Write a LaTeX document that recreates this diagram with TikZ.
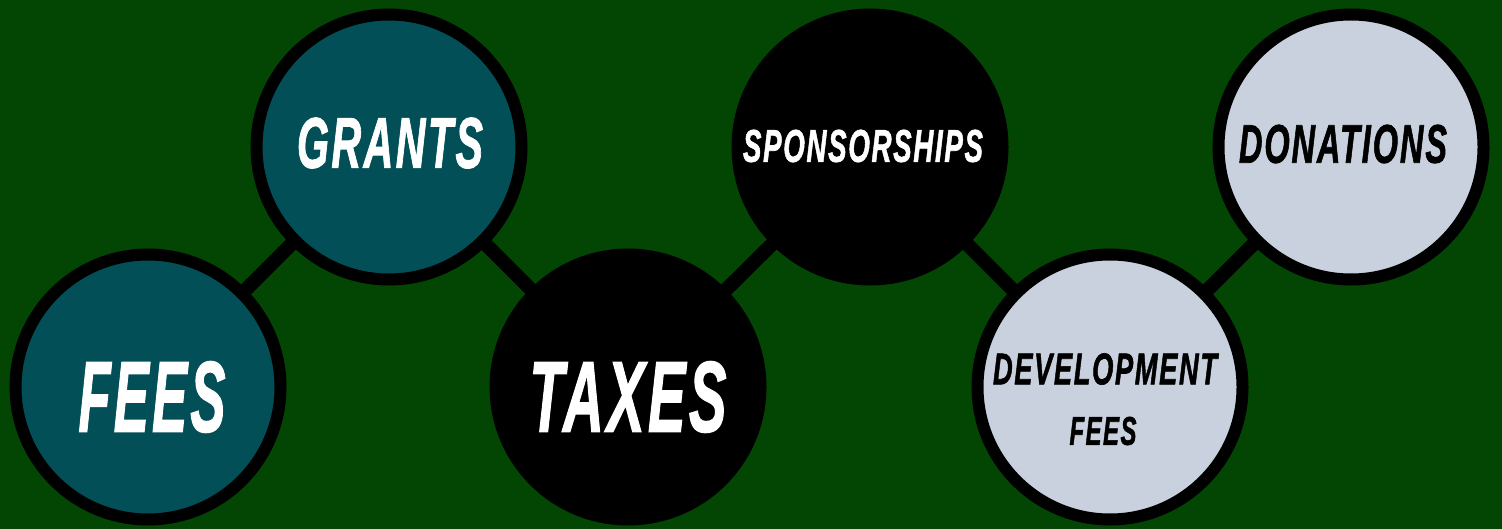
\documentclass[tikz,border=0pt]{standalone}
\usepackage{fontspec}
\usepackage{graphicx}
\setmainfont{Liberation Sans}
\newfontfamily\heavyfont{Liberation Sans}[FakeBold=1.6, LetterSpace=6]
\definecolor{bggreen}{RGB}{3,70,3}
\definecolor{tealfill}{RGB}{2,79,88}
\definecolor{lightfill}{RGB}{202,209,222}
\newcommand{\fitlbl}[3]{\resizebox{#1pt}{#2pt}{\heavyfont\bfseries\itshape #3}}
\tikzset{
  bubble/.style={circle, draw=black, line width=12pt, minimum size=265pt, inner sep=0pt},
  linker/.style={draw=black, line width=14pt},
  lbl/.style={inner sep=0pt, anchor=center}
}
\begin{document}
\begin{tikzpicture}[x=1pt,y=-1pt]
\fill[bggreen] (0,0) rectangle (1502,529);
\useasboundingbox (0,0) rectangle (1502,529);
% centres
\coordinate (cfees) at (148,387);
\coordinate (cgrants) at (389,147);
\coordinate (ctaxes) at (628,387);
\coordinate (cspons) at (870,147);
\coordinate (cdev) at (1110,387);
\coordinate (cdon) at (1351,147);
% connectors
\draw[linker] (cfees) -- (cgrants) -- (ctaxes) -- (cspons) -- (cdev) -- (cdon);
% bubbles
\node[bubble, fill=tealfill] (fees) at (cfees) {};
\node[bubble, fill=tealfill] (grants) at (cgrants) {};
\node[bubble, fill=black] (taxes) at (ctaxes) {};
\node[bubble, fill=black] (spons) at (cspons) {};
\node[bubble, fill=lightfill] (dev) at (cdev) {};
\node[bubble, fill=lightfill] (don) at (cdon) {};
% labels
\node[lbl, text=white] (tfees) at (152,397) {\fitlbl{147}{70}{FEES}};
\node[lbl, text=white] (tgrants) at (390,143) {\fitlbl{186}{50}{GRANTS}};
\node[lbl, text=white] (ttaxes) at (628,397) {\fitlbl{197}{70}{TAXES}};
\node[lbl, text=white] (tspons) at (863,146) {\fitlbl{240}{32}{SPONSORSHIPS}};
\node[lbl, text=black] (tdev1) at (1105,369) {\fitlbl{224}{31}{DEVELOPMENT}};
\node[lbl, text=black] (tdev2) at (1103,431) {\fitlbl{67}{28}{FEES}};
\node[lbl, text=black] (tdon) at (1343,144) {\fitlbl{208}{38}{DONATIONS}};
\end{tikzpicture}
\end{document}
